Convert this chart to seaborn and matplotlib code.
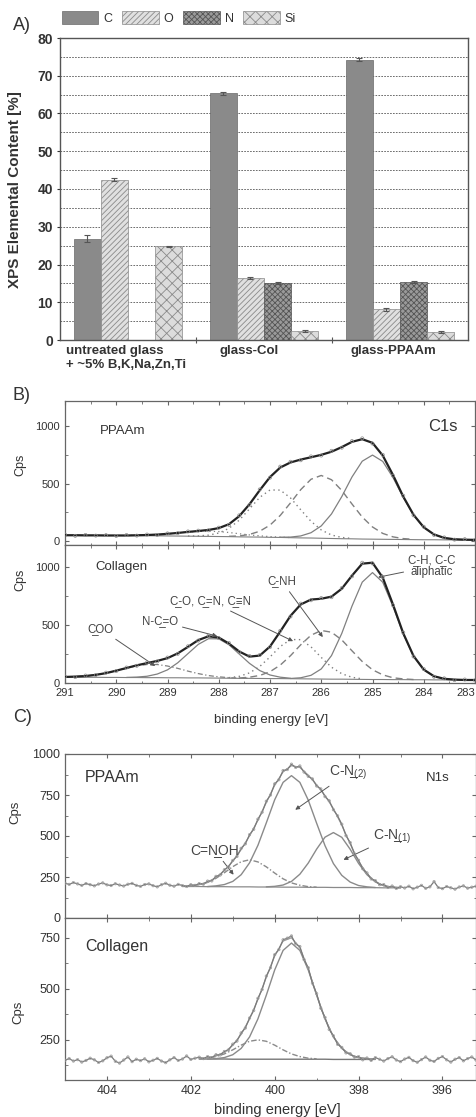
import numpy as np
import pandas as pd
import matplotlib
matplotlib.use("Agg")
import matplotlib.pyplot as plt
import seaborn as sns
from matplotlib.patches import Patch
from matplotlib.ticker import MultipleLocator, NullFormatter
from matplotlib.transforms import blended_transform_factory

sns.set_style("ticks")
plt.rcParams['font.family'] = ['Liberation Sans', 'DejaVu Sans']
plt.rcParams['mathtext.fontset'] = 'custom'
plt.rcParams['mathtext.rm'] = 'Liberation Sans'
plt.rcParams['mathtext.it'] = 'Liberation Sans:italic'
plt.rcParams['mathtext.bf'] = 'Liberation Sans:bold'
plt.rcParams['hatch.linewidth'] = 0.6

U = "\u0332"  # combining low line (underlined atom)

# ---------------- Panel A data ----------------
samples = ["untreated glass", "glass-Col", "glass-PPAAm"]
sample_labels = ["untreated glass\n+ ~5% B,K,Na,Zn,Ti", "glass-Col", "glass-PPAAm"]
elements = ["C", "O", "N", "Si"]
c_content = [26.8, 65.3, 74.3]
o_content = [42.5, 16.4, 8.2]
n_content = [np.nan, 15.1, 15.3]
si_content = [24.8, 2.4, 2.1]
c_err = [0.9, 0.3, 0.5]
o_err = [0.4, 0.3, 0.4]
n_err = [np.nan, 0.2, 0.3]
si_err = [0.2, 0.2, 0.2]

# ---------------- Panel B data (C1s) ----------------
c1s_energy = np.linspace(291.0, 283.0, 41)
c1s_ticks = [291, 290, 289, 288, 287, 286, 285, 284, 283]
# PPAAm
ppaam_c1s_data = [58, 47, 55, 49, 53, 46, 54, 49, 58, 55, 68, 70, 85, 92, 95, 118, 142, 225, 315, 450,
                  552, 648, 690, 703, 736, 744, 785, 812, 870, 893, 848, 750, 569, 395, 225, 126, 55, 33, 14, 18, 10]
ppaam_c1s_env = [52, 52, 51, 51, 50, 50, 50, 52, 54, 58, 64.5, 72, 81, 89, 98, 114, 148, 218, 321, 443,
                 557, 640, 684, 709, 729, 750, 777, 817, 863, 886, 854, 744, 575, 388, 230, 121, 59, 29, 17, 13.5, 12]
ppaam_c1s_bg = [52, 52, 51, 51, 50, 50, 49, 49, 48, 47, 46, 45, 44, 43, 42, 41, 40, 38, 37, 36,
                34, 33, 31, 29, 28, 26, 24, 22, 21, 19, 18, 17, 16, 15, 14, 13, 13, 12, 12, 12, 12]
ppaam_ch_e = np.linspace(286.8, 283.0, 20)
ppaam_ch = [35, 36, 46, 74, 133, 237, 387, 558, 695, 748, 693, 553, 380, 227, 120, 59, 29, 17, 14, 12]
ppaam_cn_e = np.linspace(287.8, 284.2, 19)
ppaam_cn = [43, 46, 59, 87, 140, 224, 333, 448, 538, 571, 534, 441, 323, 210, 124, 68, 38, 23, 17]
ppaam_co_e = np.linspace(288.6, 285.4, 17)
ppaam_co = [45, 46, 53, 71, 112, 183, 281, 381, 445, 444, 376, 273, 173, 98, 54, 33, 24]
ppaam_nco_e = np.linspace(289.8, 286.6, 17)
ppaam_nco = [50, 52, 54, 58, 64, 72, 80, 86, 87, 84, 76, 65, 55, 47, 40, 36, 32]
# Collagen
col_c1s_data = [56, 51, 64, 68, 89, 103, 133, 148, 176, 186, 219, 251, 316, 365, 408, 386, 344, 266, 232, 241,
                309, 449, 572, 683, 712, 731, 738, 817, 918, 1035, 1029, 913, 669, 434, 228, 120, 54, 40, 25, 30, 23]
col_c1s_env = [52, 55, 60, 70, 85, 106, 129, 152, 171, 190, 214, 255, 311, 369, 402, 391, 339, 271, 227, 236,
               314, 443, 578, 676, 718, 725, 743, 811, 924, 1027, 1035, 907, 675, 428, 233, 115, 58, 36, 29, 26, 26]
col_c1s_bg = [50, 50, 49, 49, 48, 48, 47, 47, 46, 46, 45, 45, 44, 44, 43, 42, 41, 40, 40, 39,
              38, 38, 37, 36, 35, 34, 33, 33, 32, 31, 30, 30, 29, 29, 28, 28, 27, 27, 27, 26, 26]
col_ch_e = np.linspace(286.6, 283.4, 17)
col_ch = [39, 45, 66, 121, 236, 426, 662, 868, 950, 867, 659, 422, 231, 115, 58, 36, 29]
col_cnh_e = np.linspace(287.6, 284.2, 18)
col_cnh = [43, 50, 65, 97, 154, 235, 329, 411, 452, 437, 371, 277, 185, 114, 70, 45, 35, 30]
col_co_e = np.linspace(287.8, 285.2, 14)
col_co = [46, 57, 87, 142, 224, 314, 374, 373, 311, 220, 136, 80, 49, 36]
col_nco_e = np.linspace(289.8, 286.6, 17)
col_nco = [48, 51, 58, 77, 113, 174, 253, 332, 381, 380, 329, 249, 169, 107, 69, 50, 41]
col_coo_e = np.linspace(291.0, 287.4, 19)
col_coo = [52, 55, 60, 70, 85, 106, 128, 148, 159, 159, 146, 126, 102, 81, 64, 53, 46, 42, 41]

# ---------------- Panel C data (N1s) ----------------
n1s_energy = np.linspace(405.0, 395.2, 99)
ppaam_n1s_data = [212, 205, 216, 208, 199, 210, 203, 196, 207, 214,
                  202, 198, 209, 201, 195, 206, 211, 199, 193, 204,
                  208, 197, 190, 203, 212, 200, 194, 205, 198, 192,
                  203, 199, 210, 206, 225, 226, 254, 262, 294, 312,
                  351, 375, 425, 452, 508, 541, 603, 645, 712, 750,
                  818, 843, 899, 905, 938, 918, 927, 890, 864, 848,
                  805, 787, 740, 715, 660, 623, 572, 502, 460, 392,
                  352, 300, 275, 238, 228, 203, 204, 186, 195, 180,
                  191, 183, 194, 178, 188, 199, 181, 190, 222, 186,
                  179, 192, 184, 176, 189, 196, 182, 188, 194]
ppaam_n1s_fit_e = np.linspace(402.2, 397.0, 27)
ppaam_n1s_env = [193, 196, 204, 218, 247, 289, 346, 417, 501, 596, 704, 810, 891, 929, 918, 871, 812, 747,
                 667, 566, 452, 346, 269, 221, 197, 188, 185]
ppaam_n1s_bg = [192, 192, 192, 191, 191, 191, 190, 190, 190, 189, 189, 189, 188, 188, 188, 187, 187, 187,
                186, 186, 186, 185, 185, 185, 184, 184, 184]
ppaam_cn2_e = np.linspace(401.6, 397.6, 21)
ppaam_cn2 = [192, 196, 204, 223, 264, 336, 443, 580, 721, 827, 868, 827, 719, 578, 441, 332, 260, 219, 198, 190, 186]
ppaam_cn1_e = np.linspace(400.2, 397.0, 17)
ppaam_cn1 = [190, 193, 201, 223, 267, 335, 420, 493, 521, 492, 419, 333, 264, 220, 197, 188, 185]
ppaam_cnoh_e = np.linspace(402.2, 399.0, 17)
ppaam_cnoh = [193, 196, 204, 217, 242, 276, 313, 343, 355, 342, 312, 274, 239, 214, 200, 191, 188]

col_n1s_data = [150, 158, 146, 153, 141, 149, 160, 152, 139, 147,
                162, 170, 145, 136, 151, 166, 143, 155, 148, 157,
                142, 150, 159, 146, 138, 152, 163, 149, 156, 171,
                154, 160, 165, 158, 168, 163, 177, 176, 193, 200,
                229, 244, 284, 308, 357, 394, 454, 497, 563, 604,
                668, 693, 741, 749, 760, 721, 708, 644, 604, 528,
                477, 405, 360, 301, 270, 228, 213, 186, 182, 165,
                168, 152, 161, 149, 163, 155, 146, 158, 167, 151,
                143, 156, 164, 148, 140, 153, 166, 150, 144, 159,
                168, 152, 141, 155, 163, 147, 158, 166, 151]
col_n1s_fit_e = np.linspace(401.8, 397.6, 22)
col_n1s_env = [157, 161, 171, 189, 223, 277, 352, 448, 557, 662, 735, 751, 702, 598, 471, 353, 264, 208, 177,
               163, 158, 156]
col_n1s_bg = [156, 156, 156, 156, 155, 155, 155, 155, 155, 155, 155, 155, 155, 155, 155, 155, 154, 154, 154,
              154, 154, 154]
col_main_e = np.linspace(401.6, 397.6, 21)
col_main = [156, 158, 163, 177, 208, 264, 353, 469, 593, 689, 725, 689, 593, 469, 353, 264, 208, 177, 163, 158, 156]
col_small_e = np.linspace(401.8, 399.0, 15)
col_small = [157, 160, 168, 181, 201, 224, 243, 250, 243, 224, 201, 181, 168, 160, 157]

# ---------------- Figure ----------------
W, H = 476, 1117
def rect(l, t, r, b):
    return [l / W, 1 - b / H, (r - l) / W, (b - t) / H]

fig = plt.figure(figsize=(W / 100, H / 100), dpi=100)
TXT = '#333333'
SPINE = '#555555'

# ---- Panel A ----
axA = fig.add_axes(rect(60, 38, 468, 340))
df = pd.DataFrame({
    "sample": samples * 4,
    "element": np.repeat(elements, 3),
    "content": c_content + o_content + n_content + si_content,
})
errs = {"C": c_err, "O": o_err, "N": n_err, "Si": si_err}
sns.barplot(data=df, x="sample", y="content", hue="element", order=samples, hue_order=elements,
            width=0.8, errorbar=None, saturation=1, legend=False, ax=axA)
styles = {
    "C": dict(facecolor='#8a8a8a', hatch='', edgecolor='#6a6a6a'),
    "O": dict(facecolor='#e0e0e0', hatch='//////', edgecolor='#8a8a8a'),
    "N": dict(facecolor='#9a9a9a', hatch='xxxxxx', edgecolor='#555555'),
    "Si": dict(facecolor='#dcdcdc', hatch='xxx', edgecolor='#8a8a8a'),
}
for cont, el in zip(axA.containers, elements):
    for bar in cont:
        bar.set_facecolor(styles[el]['facecolor'])
        bar.set_hatch(styles[el]['hatch'])
        bar.set_edgecolor(styles[el]['edgecolor'])
        bar.set_linewidth(0.5)
        h = bar.get_height()
        if not np.isfinite(h):
            continue
        cx = bar.get_x() + bar.get_width() / 2
        idx = int(round(cx))
        e = errs[el][idx]
        if np.isfinite(e):
            axA.errorbar(cx, h, yerr=e, color='#555555', lw=0.8, capsize=2.5, capthick=0.8, zorder=5)

axA.set_xlim(-0.5, 2.5)
axA.set_ylim(0, 80)
axA.yaxis.set_major_locator(MultipleLocator(10))
axA.yaxis.set_minor_locator(MultipleLocator(5))
axA.set_axisbelow(True)
axA.grid(axis='y', which='both', ls=(0, (2, 1.5)), color='#555555', lw=0.6)
axA.set_xticks([0.5, 1.5])
axA.set_xticklabels([])
axA.tick_params(axis='x', direction='inout', length=4, color=SPINE)
axA.tick_params(axis='y', which='major', length=2, labelsize=10, colors=TXT, pad=3)
axA.tick_params(axis='y', which='minor', length=0)
for lab in axA.get_yticklabels():
    lab.set_fontweight('bold')
for sp in axA.spines.values():
    sp.set_color(SPINE)
    sp.set_linewidth(1.0)
axA.set_xlabel("")
axA.set_ylabel("XPS Elemental Content [%]", fontsize=11, fontweight='bold', color=TXT)
axA.yaxis.set_label_coords(-0.094, 0.497)
trans = blended_transform_factory(axA.transData, axA.transAxes)
axA.text(-0.455, -0.018, sample_labels[0], transform=trans, ha='left', va='top', fontsize=9.5,
         fontweight='bold', color=TXT, linespacing=1.15)
axA.text(0.89, -0.018, sample_labels[1], transform=trans, ha='center', va='top', fontsize=9.5,
         fontweight='bold', color=TXT)
axA.text(1.95, -0.018, sample_labels[2], transform=trans, ha='center', va='top', fontsize=9.5,
         fontweight='bold', color=TXT)
handles = [Patch(facecolor=styles[el]['facecolor'], hatch=styles[el]['hatch'],
                 edgecolor=styles[el]['edgecolor'], linewidth=0.5, label=el) for el in elements]
fig.legend(handles=handles, loc='upper left', bbox_to_anchor=(62 / W, 1 - 11 / H), ncol=4, frameon=False,
           fontsize=9, handlelength=2.9, handleheight=1.25, handletextpad=0.4, columnspacing=0.8,
           borderpad=0, borderaxespad=0, labelcolor=TXT)
fig.text(13 / W, 1 - 25 / H, "A)", fontsize=13, va='center', ha='left', color=TXT)


def line(ax, x, y, color='#777777', lw=0.9, ls='-', z=2):
    sns.lineplot(x=np.asarray(x), y=np.asarray(y, dtype=float), ax=ax, color=color, linewidth=lw,
                 linestyle=ls, estimator=None, sort=False, errorbar=None, zorder=z)


def pts(ax, x, y, color='#8a8a8a', s=5):
    sns.scatterplot(x=np.asarray(x), y=np.asarray(y, dtype=float), ax=ax, marker='o', s=s,
                    facecolor='none', edgecolor=color, linewidth=0.5, zorder=4)


def style_spec(ax, xmaj, xmin, ymaj, ymin, labelsize, show_x):
    ax.xaxis.set_major_locator(MultipleLocator(xmaj))
    ax.xaxis.set_minor_locator(MultipleLocator(xmin))
    ax.yaxis.set_major_locator(MultipleLocator(ymaj))
    ax.yaxis.set_minor_locator(MultipleLocator(ymin))
    ax.tick_params(which='both', direction='in', top=True, right=True, color='#666666',
                   labelsize=labelsize, labelcolor=TXT)
    ax.tick_params(which='major', length=3)
    ax.tick_params(which='minor', length=1.8)
    if not show_x:
        ax.xaxis.set_major_formatter(NullFormatter())
    for sp in ax.spines.values():
        sp.set_color('#666666')
        sp.set_linewidth(0.9)
    ax.set_xlabel("")
    ax.set_ylabel("")

# ---- Panel B ----
fig.text(13 / W, 1 - 395 / H, "B)", fontsize=13, va='center', ha='left', color=TXT)
axB1 = fig.add_axes(rect(65, 400.7, 475, 544.7))
axB2 = fig.add_axes(rect(65, 544.7, 475, 683))
GR = '#808080'
line(axB1, c1s_energy, ppaam_c1s_bg, GR, 0.8)
line(axB1, ppaam_nco_e, ppaam_nco, GR, 0.9, (0, (1, 2.5)))
line(axB1, ppaam_co_e, ppaam_co, GR, 1.0, (0, (1, 2.5)))
line(axB1, ppaam_cn_e, ppaam_cn, GR, 1.0, (0, (5, 3)))
line(axB1, ppaam_ch_e, ppaam_ch, GR, 0.9, '-')
line(axB1, c1s_energy, ppaam_c1s_env, '#222222', 1.6, '-', 3)
pts(axB1, c1s_energy, ppaam_c1s_data)
axB1.set_xlim(291, 283)
axB1.set_ylim(-30, 1220)
style_spec(axB1, 1, 0.5, 500, 250, 8, False)
axB1.text(0.085, 0.79, "PPAAm", transform=axB1.transAxes, fontsize=9.5, color=TXT, ha='left', va='center')
axB1.text(0.958, 0.824, "C1s", transform=axB1.transAxes, fontsize=12, color=TXT, ha='right', va='center')

line(axB2, c1s_energy, col_c1s_bg, GR, 0.8)
line(axB2, col_coo_e, col_coo, GR, 0.9, (0, (4, 2, 1, 2)))
line(axB2, col_nco_e, col_nco, GR, 0.9, '-')
line(axB2, col_co_e, col_co, GR, 1.0, (0, (1, 2.5)))
line(axB2, col_cnh_e, col_cnh, GR, 1.0, (0, (5, 3)))
line(axB2, col_ch_e, col_ch, GR, 0.9, '-')
line(axB2, c1s_energy, col_c1s_env, '#222222', 1.6, '-', 3)
pts(axB2, c1s_energy, col_c1s_data)
axB2.set_xlim(291, 283)
axB2.set_ylim(0, 1190)
style_spec(axB2, 1, 0.5, 500, 250, 8, True)
axB2.set_xticks(c1s_ticks)
axB2.set_xticklabels([str(t) for t in c1s_ticks])
axB2.get_xticklabels()[-1].set_horizontalalignment('right')
axB2.text(0.073, 0.839, "Collagen", transform=axB2.transAxes, fontsize=9.5, color=TXT, ha='left', va='center')
arrow = dict(arrowstyle='-|>', color='#555555', lw=0.7, mutation_scale=6, shrinkA=1, shrinkB=0)
akw = dict(fontsize=8.3, color='#444444', ha='center', va='center', arrowprops=arrow)
axB2.annotate("C" + U + "OO", xy=(289.24, 146), xytext=(290.3, 463), **akw)
axB2.annotate("N-C" + U + "=O", xy=(288.03, 403), xytext=(289.15, 532), **akw)
axB2.annotate("C" + U + "-O, C" + U + "=N, C" + U + "≡N", xy=(286.55, 360), xytext=(288.17, 704), **akw)
axB2.annotate("C" + U + "-NH", xy=(285.97, 395), xytext=(286.77, 875), **akw)
axB2.annotate("C" + U + "-H, C" + U + "-C\naliphatic", xy=(284.89, 910), xytext=(283.84, 1004),
              linespacing=0.95, **akw)
fig.text(20 / W, 1 - 465 / H, "Cps", rotation=90, fontsize=9, ha='center', va='center', color=TXT)
fig.text(20 / W, 1 - 580 / H, "Cps", rotation=90, fontsize=9, ha='center', va='center', color=TXT)
fig.text(271 / W, 1 - 720 / H, "binding energy [eV]", fontsize=9.5, ha='center', va='center', color=TXT)

# ---- Panel C ----
fig.text(13 / W, 1 - 717 / H, "C)", fontsize=13, va='center', ha='left', color=TXT)
axC1 = fig.add_axes(rect(65, 754, 476, 918))
axC2 = fig.add_axes(rect(65, 918, 476, 1080))
NG = '#8a8a8a'
line(axC1, ppaam_n1s_fit_e, ppaam_n1s_bg, NG, 0.9)
line(axC1, ppaam_cnoh_e, ppaam_cnoh, NG, 1.0, (0, (4, 1.5, 1, 1.5)))
line(axC1, ppaam_cn1_e, ppaam_cn1, NG, 1.0, '-')
line(axC1, ppaam_cn2_e, ppaam_cn2, NG, 1.0, '-')
line(axC1, ppaam_n1s_fit_e, ppaam_n1s_env, '#9a9a9a', 0.9, '-')
line(axC1, n1s_energy, ppaam_n1s_data, '#7a7a7a', 0.9, '-', 3)
pts(axC1, n1s_energy, ppaam_n1s_data, '#9a9a9a', 3)
axC1.set_xlim(405.0, 395.2)
axC1.set_ylim(0, 1000)
style_spec(axC1, 2, 1, 250, 125, 9, False)
axC1.text(0.049, 0.854, "PPAAm", transform=axC1.transAxes, fontsize=11.5, color=TXT, ha='left', va='center')
axC1.text(0.937, 0.854, "N1s", transform=axC1.transAxes, fontsize=9.5, color=TXT, ha='right', va='center')
akw2 = dict(fontsize=10, color='#444444', ha='center', va='center', arrowprops=arrow)
axC1.annotate("C-N" + U + "$_{(2)}$", xy=(399.51, 660), xytext=(398.25, 884), **akw2)
axC1.annotate("C-N" + U + "$_{(1)}$", xy=(398.36, 355), xytext=(397.2, 494), **akw2)
axC1.annotate("C=N" + U + "OH", xy=(400.98, 264), xytext=(401.44, 415), **akw2)

line(axC2, col_n1s_fit_e, col_n1s_bg, '#777777', 1.0)
line(axC2, col_small_e, col_small, NG, 1.0, (0, (4, 1.5, 1, 1.5)))
line(axC2, col_main_e, col_main, NG, 1.0, '-')
line(axC2, col_n1s_fit_e, col_n1s_env, '#9a9a9a', 0.9, '-')
line(axC2, n1s_energy, col_n1s_data, '#7a7a7a', 0.9, '-', 3)
pts(axC2, n1s_energy, col_n1s_data, '#9a9a9a', 3)
axC2.set_xlim(405.0, 395.2)
axC2.set_ylim(53, 848)
style_spec(axC2, 2, 1, 250, 125, 9, True)
axC2.text(0.049, 0.821, "Collagen", transform=axC2.transAxes, fontsize=11.5, color=TXT, ha='left', va='center')
fig.text(15 / W, 1 - 812 / H, "Cps", rotation=90, fontsize=9.5, ha='center', va='center', color=TXT)
fig.text(18 / W, 1 - 1012 / H, "Cps", rotation=90, fontsize=9.5, ha='center', va='center', color=TXT)
fig.text(277 / W, 1 - 1110 / H, "binding energy [eV]", fontsize=10.5, ha='center', va='center', color=TXT)

fig.savefig("out.png", dpi=100)
